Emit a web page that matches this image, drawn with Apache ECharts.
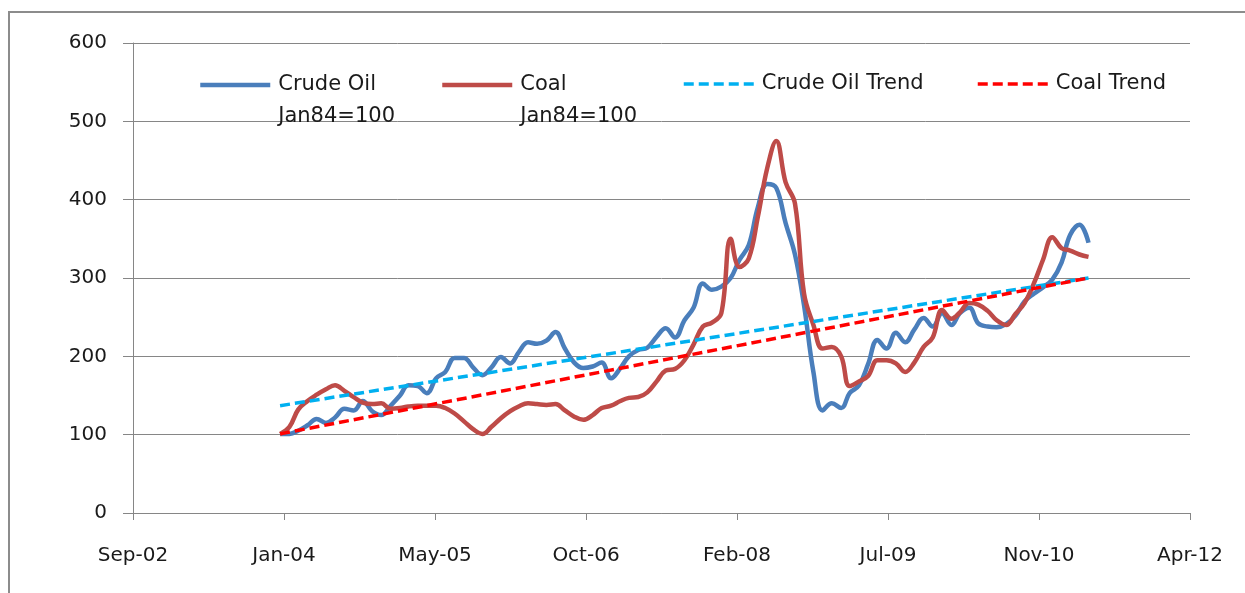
<!DOCTYPE html>
<html>
<head>
<meta charset="utf-8">
<title>Crude Oil vs Coal</title>
<script src="https://cdn.jsdelivr.net/npm/echarts@6/dist/echarts.min.js"></script>
<style>
  html, body { margin: 0; padding: 0; background: #fff; }
  #chart { width: 1245px; height: 593px; }
</style>
</head>
<body>
<div id="chart"></div>
<script>
// monthly index values, Jan84=100, first point is Jan 2004
var firstMonth = [2004, 1];
var crudeOil = [
  101, 101, 105, 112, 120, 115, 122, 133, 131, 143, 130, 125,
  137, 150, 163, 162, 153, 172, 180, 198, 198, 186, 176, 186,
  199, 191, 205, 218, 216, 220, 231, 210, 192, 185, 187, 192,
  172, 185, 200, 208, 211, 225, 236, 224, 246, 262, 293, 285,
  289, 300, 323, 342, 390, 420, 415, 370, 330, 265, 180, 131,
  140, 134, 153, 163, 190, 221, 210, 230, 218, 234, 249, 238,
  255, 240, 255, 262, 242, 238, 237, 241, 252, 270, 280, 288,
  298, 320, 355, 368, 345
];
var coal = [
  101, 110, 132, 143, 151, 158, 163, 156, 148, 141, 139, 140,
  133, 134, 136, 137, 137, 137, 134, 127, 117, 107, 101, 110,
  121, 130, 136, 140, 139, 138, 139, 131, 123, 119, 125, 134,
  137, 143, 147, 148, 154, 168, 182, 184, 195, 215, 238, 243,
  255, 350, 314, 325, 378, 440, 475, 422, 395, 280, 240, 210,
  212, 200, 162, 168, 175, 195, 195, 191, 180, 192, 212, 224,
  259, 248, 256, 268, 266, 258, 246, 240, 254, 268, 293, 323,
  352, 338, 335, 330, 327
];
// linear trend lines: value at first and last month
var crudeTrend = [137, 300];
var coalTrend = [101, 300];

// x axis works in excel day numbers, like the original sheet
var axisMin = 37500, axisMax = 41000, axisStep = 500;
var tickLabels = ['Sep-02', 'Jan-04', 'May-05', 'Oct-06', 'Feb-08', 'Jul-09', 'Nov-10', 'Apr-12'];

var names = ['Crude Oil Jan84=100', 'Coal Jan84=100', 'Crude Oil Trend', 'Coal Trend'];
var colors = ['#4a7ebb', '#be4b48', '#00b0f0', '#ff0000'];

function excelDay(y, m) {
  return (Date.UTC(y, m - 1, 1) - Date.UTC(1899, 11, 30)) / 86400000;
}
var days = crudeOil.map(function (v, i) {
  return excelDay(firstMonth[0], firstMonth[1] + i);
});
function pairs(vals) {
  return vals.map(function (v, i) { return [days[i], v]; });
}
function trend(ends) {
  return [[days[0], ends[0]], [days[days.length - 1], ends[1]]];
}

var font = 'DejaVu Sans';
var grey = '#868686';

function legendItem(name, left) {
  var twoLines = name.indexOf('Jan84') >= 0;
  return {
    left: left,
    top: twoLines ? 37 : 68,
    padding: 0,
    itemWidth: 70,
    itemHeight: 14,
    data: [name],
    selectedMode: false,
    itemStyle: { opacity: 0 },
    lineStyle: { width: twoLines ? 4.5 : 3.5 },
    // blank first line keeps the name's first line level with the line icon
    formatter: function (n) {
      return twoLines ? ' \n' + n.replace(' Jan84', '\nJan84') : n;
    },
    textStyle: {
      fontFamily: font,
      fontSize: 21,
      lineHeight: 32,
      color: '#1a1a1a',
      padding: [0, 0, 0, 3]
    }
  };
}

var myChart = echarts.init(document.getElementById('chart'));
var option = {
  animation: false,
  textStyle: { fontFamily: font },
  graphic: [{
    type: 'rect',
    silent: true,
    shape: { x: 9, y: 12, width: 1300, height: 700 },
    style: { fill: 'none', stroke: '#8c8c8c', lineWidth: 2 }
  }],
  grid: { left: 133, right: 55, top: 43, bottom: 80 },
  legend: [
    legendItem(names[0], 198),
    legendItem(names[1], 440),
    legendItem(names[2], 682),
    legendItem(names[3], 976)
  ],
  xAxis: {
    type: 'value',
    min: axisMin,
    max: axisMax,
    interval: axisStep,
    axisLine: { lineStyle: { color: grey, width: 1 } },
    axisTick: { show: true, length: 7, lineStyle: { color: grey } },
    axisLabel: {
      margin: 33,
      fontSize: 20,
      color: '#1a1a1a',
      formatter: function (v) {
        return tickLabels[Math.round((v - axisMin) / axisStep)] || '';
      }
    },
    splitLine: { show: false }
  },
  yAxis: {
    type: 'value',
    min: 0,
    max: 600,
    interval: 100,
    axisLine: { show: true, lineStyle: { color: grey, width: 1 } },
    axisTick: { show: true, length: 10, lineStyle: { color: grey } },
    axisLabel: { margin: 26, fontSize: 20, color: '#1a1a1a' },
    splitLine: { lineStyle: { color: grey, width: 1 } }
  },
  series: [
    {
      name: names[0],
      type: 'line',
      smooth: 0.4,
      symbol: 'none',
      lineStyle: { color: colors[0], width: 4.5 },
      itemStyle: { color: colors[0] },
      data: pairs(crudeOil)
    },
    {
      name: names[1],
      type: 'line',
      smooth: 0.4,
      symbol: 'none',
      lineStyle: { color: colors[1], width: 4.5 },
      itemStyle: { color: colors[1] },
      data: pairs(coal)
    },
    {
      name: names[2],
      type: 'line',
      symbol: 'none',
      lineStyle: { color: colors[2], width: 3.5, type: [10, 5] },
      itemStyle: { color: colors[2] },
      data: trend(crudeTrend)
    },
    {
      name: names[3],
      type: 'line',
      symbol: 'none',
      lineStyle: { color: colors[3], width: 3.5, type: [10, 5] },
      itemStyle: { color: colors[3] },
      data: trend(coalTrend)
    }
  ]
};
myChart.setOption(option);
window.addEventListener('resize', function () { myChart.resize(); });
</script>
</body>
</html>
